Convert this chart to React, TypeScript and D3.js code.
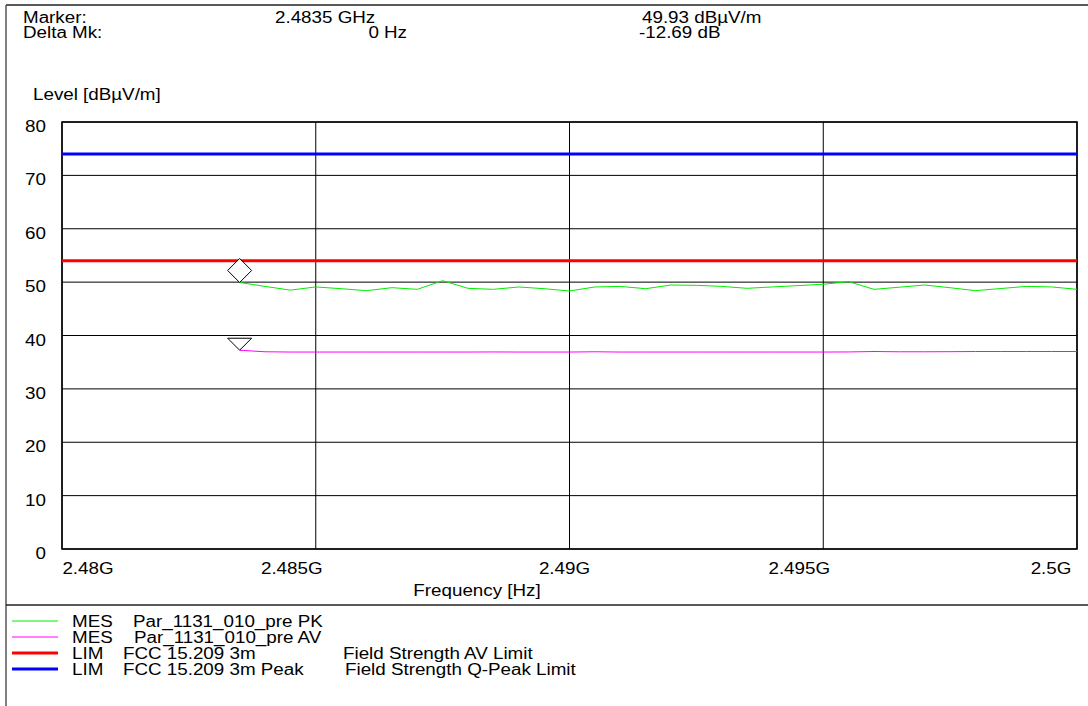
import React from "react";
import * as d3 from "d3";

const W = 1088;
const H = 706;

// Frequencies in GHz
const pkFreq = [2.4835, 2.484, 2.4845, 2.485, 2.4855, 2.486, 2.4865, 2.487, 2.4875, 2.488, 2.4885, 2.489, 2.4895, 2.49, 2.4905, 2.491, 2.4915, 2.492, 2.4925, 2.493, 2.4935, 2.494, 2.4945, 2.495, 2.4955, 2.496, 2.4965, 2.497, 2.4975, 2.498, 2.4985, 2.499, 2.4995, 2.5];
const pkValues = [49.93, 49.2, 48.5, 49.1, 48.77, 48.4, 48.96, 48.65, 50.27, 48.84, 48.65, 49.09, 48.77, 48.34, 49.09, 49.2, 48.77, 49.46, 49.4, 49.2, 48.84, 49.1, 49.35, 49.6, 50.08, 48.65, 49.05, 49.46, 48.95, 48.4, 48.8, 49.2, 49.1, 48.65];
const avValues = [37.24, 36.95, 36.9, 36.9, 36.9, 36.9, 36.9, 36.9, 36.9, 36.9, 36.92, 36.9, 36.9, 36.9, 36.95, 36.9, 36.9, 36.9, 36.9, 36.9, 36.9, 36.9, 36.9, 36.9, 36.92, 37.0, 36.95, 36.95, 36.97, 37.0, 37.0, 37.0, 37.0, 37.0];

const avLimit = 54;
const peakLimit = 74;

const xTicks = [2.48, 2.485, 2.49, 2.495, 2.5];
const xTickLabels = ["2.48G", "2.485G", "2.49G", "2.495G", "2.5G"];
const xLabelShift = [26, -24, -5, -24, -26];
const yTicks = [0, 10, 20, 30, 40, 50, 60, 70, 80];

const markerFreq = 2.4835;
const markerLevel = 49.93;
const deltaLevel = -12.69;

const legendItems = [
  { color: "#00ee00", width: 1, kind: "MES", name: "Par_1131_010_pre PK", desc: "" },
  { color: "#ff00ff", width: 1, kind: "MES", name: "Par_1131_010_pre AV", desc: "" },
  { color: "#ff0000", width: 3, kind: "LIM", name: "FCC 15.209 3m", desc: "Field Strength AV Limit" },
  { color: "#0000ff", width: 3, kind: "LIM", name: "FCC 15.209 3m Peak", desc: "Field Strength Q-Peak Limit" },
];
const legendNameX = [133, 134, 123, 123];
const legendDescX = [0, 0, 343, 345];

const FONT = "'Liberation Sans', Arial, sans-serif";
const FS = 16;
const SX = 1.175;

function T({ x, y, anchor = "start", children }: { x: number; y: number; anchor?: string; children: React.ReactNode }) {
  return (
    <text transform={`translate(${x},${y}) scale(${SX},1)`} textAnchor={anchor as any} fontSize={FS} fill="#000">
      {children}
    </text>
  );
}

export default function App() {
  const left = 62, right = 1077, top = 122, bottom = 549;
  const x = d3.scaleLinear().domain([2.48, 2.5]).range([left, right]);
  const y = d3.scaleLinear().domain([0, 80]).range([bottom, top]);

  const line = d3
    .line<number>()
    .x((_, i) => x(pkFreq[i]))
    .y((d) => y(d));

  const mx = x(markerFreq);
  const my = y(markerLevel);
  const ay = y(markerLevel + deltaLevel);

  return (
    <svg
      width={W}
      height={H}
      style={{ position: "absolute", left: 0, top: 0, background: "#fff" }}
      fontFamily={FONT}
    >
      <rect x={0} y={0} width={W} height={H} fill="#fff" />
      {/* frame */}
      <line x1={6} y1={5} x2={W} y2={5} stroke="#222" strokeWidth={1.5} />
      <line x1={6} y1={5} x2={6} y2={H} stroke="#555" strokeWidth={1.5} />
      <line x1={6} y1={605} x2={W} y2={605} stroke="#222" strokeWidth={1.5} />

      {/* header */}
      <T x={23} y={23}>Marker:</T>
      <T x={23} y={38}>Delta Mk:</T>
      <T x={275} y={23}>2.4835 GHz</T>
      <T x={407} y={38} anchor="end">0 Hz</T>
      <T x={642} y={23}>49.93 dBµV/m</T>
      <T x={639} y={38}>-12.69 dB</T>
      <T x={33} y={100}>Level [dBµV/m]</T>

      {/* grid */}
      <g>
        {yTicks.map((t) => (
          <line key={"gy" + t} x1={left} x2={right} y1={y(t)} y2={y(t)} stroke="#000" strokeWidth={1} />
        ))}
        {xTicks.map((t) => (
          <line key={"gx" + t} x1={x(t)} x2={x(t)} y1={top} y2={bottom} stroke="#000" strokeWidth={1} />
        ))}
        <rect x={left} y={top} width={right - left} height={bottom - top} fill="none" stroke="#000" strokeWidth={1.5} />
      </g>

      {/* limits */}
      <line x1={left} x2={right} y1={y(peakLimit)} y2={y(peakLimit)} stroke="#0000ff" strokeWidth={3} />
      <line x1={left} x2={right} y1={y(avLimit)} y2={y(avLimit)} stroke="#ff0000" strokeWidth={3} />

      {/* traces */}
      <path d={line(avValues) || ""} fill="none" stroke="#ff00ff" strokeWidth={1} />
      <path d={line(pkValues) || ""} fill="none" stroke="#00ee00" strokeWidth={1} />

      {/* markers */}
      <path
        d={`M${mx},${my} L${mx - 12},${my - 12} L${mx},${my - 24} L${mx + 12},${my - 12} Z`}
        fill="#fff"
        stroke="#000"
        strokeWidth={1}
      />
      <path
        d={`M${mx},${ay} L${mx - 12},${ay - 12} L${mx + 12},${ay - 12} Z`}
        fill="#fff"
        stroke="#000"
        strokeWidth={1}
      />

      {/* y tick labels */}
      {yTicks.map((t) => (
        <T key={"yl" + t} x={46} y={y(t) + 10} anchor="end">
          {t}
        </T>
      ))}
      {/* x tick labels */}
      {xTicks.map((t, i) => (
        <T key={"xl" + t} x={x(t) + xLabelShift[i]} y={574} anchor="middle">
          {xTickLabels[i]}
        </T>
      ))}
      <T x={477} y={596} anchor="middle">Frequency [Hz]</T>

      {/* legend */}
      {legendItems.map((it, i) => {
        const cy = 621 + i * 16;
        return (
          <g key={"lg" + i}>
            <line x1={12} x2={58} y1={cy} y2={cy} stroke={it.color} strokeWidth={it.width} />
            <T x={72} y={cy + 6}>{it.kind}</T>
            <T x={legendNameX[i]} y={cy + 6}>{it.name}</T>
            {it.desc && <T x={legendDescX[i]} y={cy + 6}>{it.desc}</T>}
          </g>
        );
      })}
    </svg>
  );
}
